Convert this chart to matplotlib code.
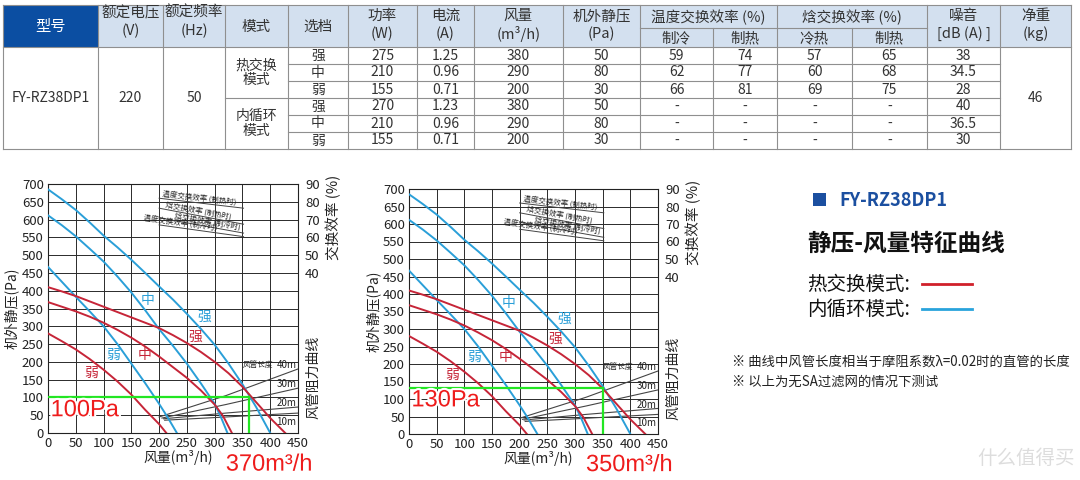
import matplotlib
matplotlib.use('Agg')
import math
import matplotlib.pyplot as plt
import matplotlib.patheffects as pe
from matplotlib.patches import Rectangle

plt.rcParams['font.family'] = ['Noto Sans CJK SC', 'DejaVu Sans']

# ---------------- table data ----------------
col_names = ['型号', '额定电压', '额定频率', '模式', '选档', '功率', '电流', '风量',
             '机外静压', '制冷', '制热', '冷热', '制热', '噪音', '净重']
col_units = ['', '(V)', '(Hz)', '', '', '(W)', '(A)', '(m³/h)', '(Pa)',
             '', '', '', '', '[dB (A) ]', '(kg)']
group_names = ['温度交换效率 (%)', '焓交换效率 (%)']

model = 'FY-RZ38DP1'
voltage = '220'
frequency = '50'
weight = '46'
modes = ['热交换\n模式', '内循环\n模式']
speeds = ['强', '中', '弱', '强', '中', '弱']
power = ['275', '210', '155', '270', '210', '155']
current = ['1.25', '0.96', '0.71', '1.23', '0.96', '0.71']
airflow = ['380', '290', '200', '380', '290', '200']
static_pa = ['50', '80', '30', '50', '80', '30']
temp_cool = ['59', '62', '66', '-', '-', '-']
temp_heat = ['74', '77', '81', '-', '-', '-']
enth_cool = ['57', '60', '69', '-', '-', '-']
enth_heat = ['65', '68', '75', '-', '-', '-']
noise = ['38', '34.5', '28', '40', '36.5', '30']

# ---------------- curve data (airflow m3/h, static pressure Pa) ----------------
blue_strong_x = [0, 25, 50, 75, 100, 125, 150, 175, 200, 225, 250, 275, 300, 325, 350, 375, 400]
blue_strong_y = [685, 657, 627, 592, 555, 522, 487, 450, 412, 375, 335, 293, 248, 195, 137, 72, 0]
blue_mid_x = [0, 25, 50, 75, 100, 125, 150, 175, 200, 225, 250, 275, 300, 312, 323]
blue_mid_y = [612, 584, 553, 518, 482, 440, 395, 345, 292, 245, 195, 140, 82, 42, 0]
blue_weak_x = [0, 25, 50, 75, 100, 125, 150, 175, 200, 215, 232]
blue_weak_y = [467, 425, 383, 342, 300, 250, 195, 140, 82, 45, 0]
red_strong_x = [0, 25, 50, 75, 100, 125, 150, 175, 200, 225, 250, 275, 300, 325, 350, 375, 400, 427]
red_strong_y = [410, 398, 385, 370, 355, 340, 325, 310, 295, 275, 253, 228, 200, 168, 130, 86, 42, 0]
red_mid_x = [0, 25, 50, 75, 100, 125, 150, 175, 200, 225, 250, 275, 300, 315, 331]
red_mid_y = [368, 355, 342, 327, 310, 290, 268, 243, 215, 185, 155, 120, 80, 48, 0]
red_weak_x = [0, 25, 50, 75, 100, 125, 150, 175, 200, 213]
red_weak_y = [280, 258, 235, 208, 178, 145, 108, 65, 25, 0]

# duct resistance curves
duct_lengths = ['40m', '30m', '20m', '10m']
duct_x = [[200, 320, 450], [205, 320, 450], [208, 320, 450], [210, 320, 450]]
duct_y = [[45, 105, 180], [42, 80, 126], [40, 56, 73], [36, 45, 56]]
duct_label_y = [190, 137, 84, 32]

# exchange-efficiency guide lines (drawn in Pa units)
eff_labels = ['温度交换效率 (制热时)', '焓交换效率 (制热时)', '焓交换效率 (制冷时)', '温度交换效率 (制冷时)']
eff_x = [[200, 352], [200, 352], [200, 352], [200, 352]]
eff_y = [[660, 632], [632, 587], [605, 562], [585, 552]]
eff_label_x = [272, 270, 285, 237]

# operating points for the two panels
op_flow = [362, 350]
op_pa = [100, 132]
op_pa_text = ['100Pa', '130Pa']
op_flow_text = ['370m³/h', '350m³/h']

RED = '#c62538'
BLUE = '#2a9fd8'

fig = plt.figure(figsize=(10.8, 4.8), dpi=100)
bg = fig.add_axes([0, 0, 1, 1])
bg.set_xlim(0, 1080)
bg.set_ylim(480, 0)
bg.axis('off')

# ---------------- table ----------------
col_edges = [3, 98, 163, 225, 288, 348, 417, 474, 563, 640, 713, 777, 852, 927, 1000, 1071]
row_edges = [47, 64, 81, 98, 115, 132, 149]
head_top, head_mid = 5, 28
lk = dict(color='#8f8f8f', lw=0.8)
txt = '#333333'

bg.add_patch(Rectangle((col_edges[0], head_top), col_edges[-1] - col_edges[0],
                       row_edges[0] - head_top, fc='#d3e0ef', ec='none'))
bg.add_patch(Rectangle((col_edges[0], head_top), col_edges[1] - col_edges[0],
                       row_edges[0] - head_top, fc='#0b4ea2', ec='none'))

for i, xe in enumerate(col_edges):
    y0 = head_mid if i in (10, 12) else head_top
    bg.plot([xe, xe], [y0, row_edges[-1]], **lk)
bg.plot([col_edges[0], col_edges[-1]], [head_top, head_top], **lk)
bg.plot([col_edges[9], col_edges[13]], [head_mid, head_mid], **lk)
bg.plot([col_edges[0], col_edges[-1]], [row_edges[0], row_edges[0]], **lk)
bg.plot([col_edges[0], col_edges[-1]], [row_edges[-1], row_edges[-1]], **lk)
for r in range(1, 6):
    x0 = col_edges[3] if r == 3 else col_edges[4]
    bg.plot([x0, col_edges[14]], [row_edges[r], row_edges[r]], **lk)

centers = [(col_edges[i] + col_edges[i + 1]) / 2 for i in range(len(col_edges) - 1)]

# header text
bg.text(centers[0], 26, col_names[0], color='white', fontsize=11, ha='center', va='center')
for i in (1, 2):
    bg.text(centers[i], 13, col_names[i], color=txt, fontsize=10.5, ha='center', va='center')
    bg.text(centers[i], 31, col_units[i], color=txt, fontsize=10.5, ha='center', va='center')
for i in (3, 4):
    bg.text(centers[i], 27, col_names[i], color=txt, fontsize=10.5, ha='center', va='center')
for i in (5, 6, 7, 8, 13, 14):
    bg.text(centers[i], 16, col_names[i], color=txt, fontsize=10.5, ha='center', va='center')
    bg.text(centers[i], 34, col_units[i], color=txt, fontsize=10.5, ha='center', va='center')
for i in (9, 10, 11, 12):
    bg.text(centers[i], 38, col_names[i], color=txt, fontsize=10.5, ha='center', va='center')
bg.text((col_edges[9] + col_edges[11]) / 2, 17, group_names[0], color=txt, fontsize=10.5,
        ha='center', va='center')
bg.text((col_edges[11] + col_edges[13]) / 2, 17, group_names[1], color=txt, fontsize=10.5,
        ha='center', va='center')

# body text
mid_body = (row_edges[0] + row_edges[-1]) / 2
for i, val in [(0, model), (1, voltage), (2, frequency), (14, weight)]:
    bg.text(centers[i], mid_body, val, color=txt, fontsize=10, ha='center', va='center')
for g, m in enumerate(modes):
    yc = (row_edges[3 * g] + row_edges[3 * g + 3]) / 2
    bg.text(centers[3], yc, m, color=txt, fontsize=10, ha='center', va='center', linespacing=1.05)
body_cols = [speeds, power, current, airflow, static_pa, temp_cool, temp_heat,
             enth_cool, enth_heat, noise]
for j, col in enumerate(body_cols):
    for r, val in enumerate(col):
        yc = (row_edges[r] + row_edges[r + 1]) / 2
        bg.text(centers[4 + j], yc, val, color=txt, fontsize=10, ha='center', va='center')


# ---------------- charts ----------------
def screen_angle(ax, xs, ys):
    (x0, y0), (x1, y1) = ax.transData.transform([(xs[0], ys[0]), (xs[1], ys[1])])
    return math.degrees(math.atan2(y1 - y0, x1 - x0))


def draw_panel(ax, k):
    ax.set_xlim(0, 450)
    ax.set_ylim(0, 700)
    ax.set_xticks(range(0, 451, 50))
    ax.set_yticks(range(0, 701, 50))
    ax.grid(True, color='#2a2a2a', lw=0.7)
    ax.set_axisbelow(True)
    ax.tick_params(length=0, labelsize=9.5, pad=3, colors='#222222')
    for s in ax.spines.values():
        s.set_color('#222222')
        s.set_linewidth(0.8)

    for xs, ys, c in [(blue_strong_x, blue_strong_y, BLUE), (blue_mid_x, blue_mid_y, BLUE),
                      (blue_weak_x, blue_weak_y, BLUE), (red_strong_x, red_strong_y, RED),
                      (red_mid_x, red_mid_y, RED), (red_weak_x, red_weak_y, RED)]:
        ax.plot(xs, ys, color=c, lw=1.4, zorder=3)

    for xs, ys in zip(duct_x, duct_y):
        ax.plot(xs, ys, color='#444444', lw=0.8, zorder=2)
    for lab, ly in zip(duct_lengths, duct_label_y):
        ax.text(447, ly, lab, fontsize=7, ha='right', va='center', color='#222222', zorder=6)
    ax.text(406, 190, '风管长度', fontsize=5.5, ha='right', va='center', color='#222222')

    for lab, xs, ys, lx in zip(eff_labels, eff_x, eff_y, eff_label_x):
        ax.plot(xs, ys, color='#444444', lw=0.7, zorder=2)
        ang = screen_angle(ax, xs, ys)
        ly = ys[0] + (ys[1] - ys[0]) * (lx - xs[0]) / (xs[1] - xs[0])
        ax.text(lx, ly + 3, lab, fontsize=5.4, rotation=ang, rotation_mode='anchor',
                ha='center', va='bottom', color='#222222')

    # curve labels
    for s, x, y, c in [('中', 180, 374, BLUE), ('强', 281, 328, BLUE), ('弱', 117, 220, BLUE),
                       ('中', 174, 220, RED), ('强', 265, 271, RED), ('弱', 78, 168, RED)]:
        ax.text(x, y, s, fontsize=10, color=c, ha='center', va='center')

    # operating point
    g = '#22e622'
    ax.plot([0, op_flow[k]], [op_pa[k], op_pa[k]], color=g, lw=1.6, zorder=4)
    ax.plot([op_flow[k], op_flow[k]], [0, op_pa[k]], color=g, lw=1.6, zorder=4)
    eff = [pe.withStroke(linewidth=3, foreground='white')]
    ax.text(66, op_pa[k] - 36, op_pa_text[k], fontsize=17, color='#ee1c1c', ha='center',
            va='center', family='Liberation Sans', path_effects=eff, zorder=5)
    ax.text(0.885, -0.127, op_flow_text[k], transform=ax.transAxes, fontsize=17,
            color='#ee1c1c', ha='center', va='center',
            family='Liberation Sans', path_effects=eff, clip_on=False)

    sec = ax.secondary_yaxis('right', functions=(lambda v: v / 5 - 50, lambda p: (p + 50) * 5))
    sec.set_yticks([40, 50, 60, 70, 80, 90])
    sec.tick_params(length=0, pad=5, labelsize=9.5, colors='#222222')
    sec.spines['right'].set_visible(False)

    ax.text(-0.145, 0.5, '机外静压(Pa)', transform=ax.transAxes, rotation=90, fontsize=10,
            ha='center', va='center', color='#222222')
    ax.text(0.52, -0.1, '风量(m³/h)', transform=ax.transAxes, fontsize=10,
            ha='center', va='center', color='#222222')
    ax.text(1.142, 0.865, '交换效率 (%)', transform=ax.transAxes, rotation=90, fontsize=10.5,
            ha='center', va='center', color='#222222')
    ax.text(1.06, 0.225, '风管阻力曲线', transform=ax.transAxes, rotation=90, fontsize=10,
            ha='center', va='center', color='#222222')


ax1 = fig.add_axes([48 / 1080, 1 - 433 / 480, 250 / 1080, 249 / 480])
ax2 = fig.add_axes([409 / 1080, 1 - 434 / 480, 249 / 1080, 245 / 480])
draw_panel(ax1, 0)
draw_panel(ax2, 1)

# ---------------- side notes ----------------
bg.add_patch(Rectangle((813, 193), 13, 13, fc='#1b4fa0', ec='none'))
bg.text(839, 200, 'FY-RZ38DP1', fontsize=13, fontweight='bold', color='#1b4fa0',
        ha='left', va='center')
bg.text(807, 244, '静压-风量特征曲线', fontsize=17, fontweight='bold', color='#111111',
        ha='left', va='center')
bg.text(807, 284, '热交换模式:', fontsize=14, color='#111111', ha='left', va='center')
bg.plot([922, 972], [284, 284], color='#d0202a', lw=2)
bg.text(807, 309, '内循环模式:', fontsize=14, color='#111111', ha='left', va='center')
bg.plot([922, 972], [309, 309], color='#29a3dc', lw=2)
bg.text(732, 362, '※ 曲线中风管长度相当于摩阻系数λ=0.02时的直管的长度', fontsize=9.6,
        color='#222222', ha='left', va='center')
bg.text(732, 382, '※ 以上为无SA过滤网的情况下测试', fontsize=9.6, color='#222222',
        ha='left', va='center')
bg.text(1075, 458, '什么值得买', fontsize=14, color='#dddddd', ha='right', va='center')

fig.savefig('out.png', dpi=100, facecolor='white')
